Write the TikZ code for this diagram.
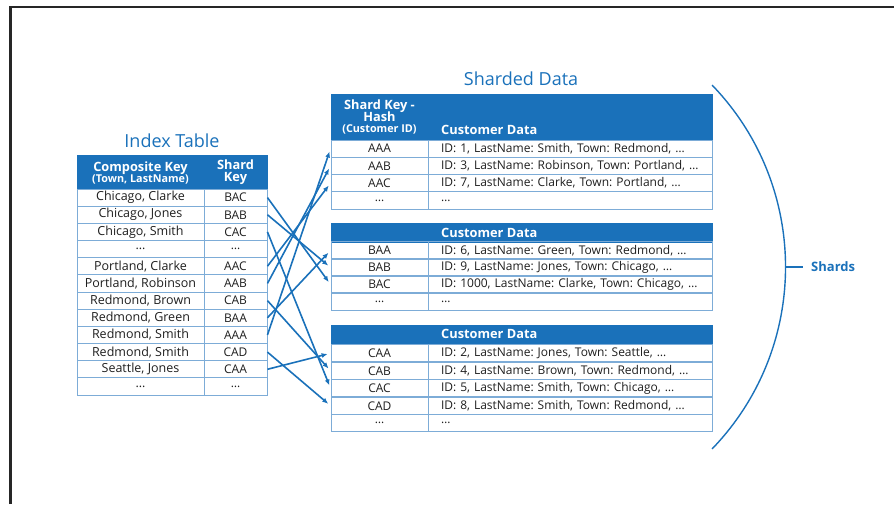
\documentclass[tikz,border=0pt]{standalone}
\usepackage{fontspec}
\setmainfont{Open Sans}
\usetikzlibrary{arrows.meta}
\frenchspacing

\definecolor{shardblue}{RGB}{26,113,186}
\definecolor{gridblue}{RGB}{125,172,215}
\definecolor{celltext}{RGB}{30,30,30}

\tikzset{
  tabletitle/.style={text=shardblue, font=\fontsize{18}{20}\selectfont, inner sep=0pt},
  headbar/.style={fill=shardblue, draw=shardblue, inner sep=0pt},
  headtext/.style={text=white, font=\bfseries\fontsize{12.8}{12}\selectfont, inner sep=0pt, align=center},
  cell/.style={draw=gridblue, line width=0.9pt, inner sep=0pt, minimum height=17.2pt, text=celltext, font=\fontsize{12}{13}\selectfont},
  namecell/.style={cell, minimum width=127pt, font=\fontsize{12.5}{13}\selectfont},
  idxkey/.style={cell, minimum width=63pt},
  shardkey/.style={cell, minimum width=97pt},
  datacell/.style={cell, minimum width=284pt, text width=258pt, inner xsep=13pt, align=left},
  link/.style={-{Latex[length=6pt,width=5pt]}, shardblue, line width=1.6pt, shorten >=3pt},
}

\begin{document}
\begin{tikzpicture}[x=1pt, y=-1pt]
  \useasboundingbox (0,0) rectangle (894,504);
  % frame
  \draw[black!85, line width=2.3pt] (10.5,504) -- (10.5,7) -- (894,7);

  % Index table
  \node[tabletitle] (ititle) at (172,141) {Index Table};
  \node[headbar, minimum width=190pt, minimum height=34pt] (ihead) at (172,172) {};
  \node[headtext] (icomp) at (140.5,172.5) {Composite Key\\[-1pt]{\bfseries\fontsize{10.8}{11}\selectfont(Town, LastName)}};
  \node[headtext] (ishard) at (235.5,172.5) {Shard\\Key};
  \foreach \town/\key/\nm [count=\i] in {
      {Chicago, Clarke}/BAC/BAC, {Chicago, Jones}/BAB/BAB, {Chicago, Smith}/CAC/CAC, …/…/dotsa,
      {Portland, Clarke}/AAC/AAC, {Portland, Robinson}/AAB/AAB, {Redmond, Brown}/CAB/CAB,
      {Redmond, Green}/BAA/BAA, {Redmond, Smith}/AAA/AAA, {Redmond, Smith}/CAD/CAD,
      {Seattle, Jones}/CAA/CAA, …/…/dotsb}{
    \node[namecell] (t\nm) at (140.5, 180.4+17.17*\i) {\town};
    \node[idxkey] (i\nm) at (235.5, 180.4+17.17*\i) {\key};
  }

  % Sharded data
  \node[tabletitle] (stitle) at (521,79) {Sharded Data};

  % shard 1
  \node[headbar, minimum width=381pt, minimum height=46pt] (head1) at (521.5,117) {};
  \node[headtext] (hkey) at (379.5,117) {Shard Key -\\[-2pt]Hash\\[-1pt]{\bfseries\fontsize{10.8}{11}\selectfont(Customer ID)}};
  \node[headtext, anchor=west] (hdata1) at (441,130) {Customer Data};
  \foreach \key/\data/\nm [count=\i] in {
      AAA/{ID: 1, LastName: Smith, Town: Redmond, …}/AAA,
      AAB/{ID: 3, LastName: Robinson, Town: Portland, …}/AAB,
      AAC/{ID: 7, LastName: Clarke, Town: Portland, …}/AAC,
      …/…/dots1}{
    \node[shardkey] (s\nm) at (379.5, 131.375+17.25*\i) {\key};
    \node[datacell] (c\nm) at (570, 131.375+17.25*\i) {\data};
  }

  % shard 2
  \node[headbar, minimum width=381pt, minimum height=19pt] (head2) at (521.5,232.5) {};
  \node[headtext, anchor=west] (hdata2) at (441,232.5) {Customer Data};
  \foreach \key/\data/\nm [count=\i] in {
      BAA/{ID: 6, LastName: Green, Town: Redmond, …}/BAA,
      BAB/{ID: 9, LastName: Jones, Town: Chicago, …}/BAB,
      BAC/{ID: 1000, LastName: Clarke, Town: Chicago, …}/BAC,
      …/…/dots2}{
    \node[shardkey] (s\nm) at (379.5, 233.5+17*\i) {\key};
    \node[datacell] (c\nm) at (570, 233.5+17*\i) {\data};
  }

  % shard 3
  \node[headbar, minimum width=381pt, minimum height=19.5pt] (head3) at (521.5,334.75) {};
  \node[headtext, anchor=west] (hdata3) at (441,334) {Customer Data};
  \foreach \key/\data/\nm [count=\i] in {
      CAA/{ID: 2, LastName: Jones, Town: Seattle, …}/CAA,
      CAB/{ID: 4, LastName: Brown, Town: Redmond, …}/CAB,
      CAC/{ID: 5, LastName: Smith, Town: Chicago, …}/CAC,
      CAD/{ID: 8, LastName: Smith, Town: Redmond, …}/CAD,
      …/…/dots3}{
    \node[shardkey] (s\nm) at (379.5, 335.75+17.5*\i) {\key};
    \node[datacell] (c\nm) at (570, 335.75+17.5*\i) {\data};
  }

  % links from index to shards
  \foreach \k in {BAC,BAB,CAC,AAC,AAB,CAB,BAA,AAA,CAD,CAA}
    \draw[link] (i\k.east) -- (s\k.west);

  % shards brace
  \draw[shardblue, line width=1.4pt] (712,85) arc[start angle=-44, end angle=44, radius=262];
  \coordinate (arcmid) at (785,267);
  \node[anchor=west, inner xsep=8pt, text=shardblue, font=\bfseries\fontsize{13}{14}\selectfont] (shards) at (803,267) {Shards};
  \draw[shardblue, line width=1.4pt] (arcmid) -- (shards.west);
\end{tikzpicture}
\end{document}
